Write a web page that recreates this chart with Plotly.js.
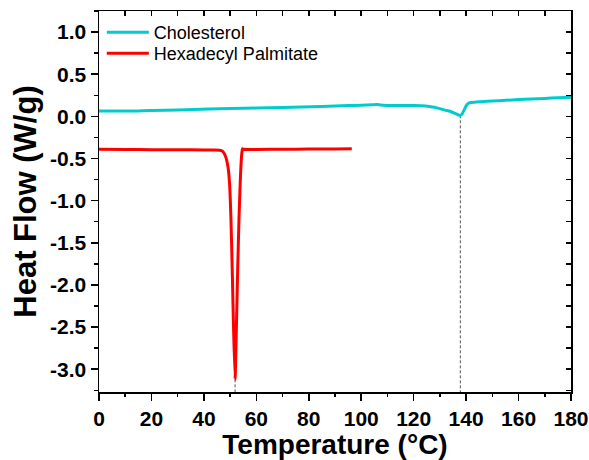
<!DOCTYPE html>
<html>
<head>
<meta charset="utf-8">
<script src="https://cdn.plot.ly/plotly-3.0.1.min.js"></script>
<style>html,body{margin:0;padding:0;background:#fff;}#chart{width:589px;height:460px;}</style>
</head>
<body>
<div id="chart"></div>
<script>
// Cholesterol DSC curve
const cholTemp = [0, 10, 15, 17, 20, 30, 42, 50, 60, 70, 77, 85, 95, 100, 104, 106, 107.5, 110, 115, 120, 123, 126, 128, 130, 132, 134, 136, 137.2, 137.8, 138.5, 139.3, 140.2, 141, 142, 145, 150, 155, 160, 165, 170, 175, 180];
const cholHeat = [0.063, 0.065, 0.064, 0.068, 0.070, 0.076, 0.087, 0.092, 0.098, 0.106, 0.110, 0.118, 0.128, 0.132, 0.137, 0.142, 0.134, 0.130, 0.129, 0.128, 0.126, 0.118, 0.108, 0.091, 0.074, 0.058, 0.032, 0.015, 0.012, 0.030, 0.080, 0.135, 0.158, 0.165, 0.174, 0.183, 0.190, 0.199, 0.205, 0.213, 0.220, 0.228];

// Hexadecyl Palmitate DSC curve
const hpTemp = [0, 10, 20, 30, 40, 44, 46, 47, 48.2, 49.2, 49.8, 50.3, 50.8, 51.3, 51.9, 52.4, 52.9, 53.4, 53.9, 54.3, 54.7, 55.2, 60, 70, 80, 90, 96.4];
const hpHeat = [-0.390, -0.392, -0.395, -0.397, -0.398, -0.400, -0.402, -0.410, -0.470, -0.600, -0.800, -1.200, -1.800, -2.500, -3.120, -2.500, -1.800, -1.200, -0.750, -0.500, -0.385, -0.390, -0.392, -0.390, -0.388, -0.386, -0.383];

// Peak temperatures marked with dashed lines
const peakTemp = [51.9, 137.8];
const peakHeat = [-3.12, 0.012];

const xRange = [0, 180];
const yRange = [-3.27, 1.25];
const xTickVals = [0, 20, 40, 60, 80, 100, 120, 140, 160, 180];
const xTickText = ['0', '20', '40', '60', '80', '100', '120', '140', '160', '180'];
const yTickVals = [1.0, 0.5, 0.0, -0.5, -1.0, -1.5, -2.0, -2.5, -3.0];
const yTickText = ['1.0', '0.5', '0.0', '-0.5', '-1.0', '-1.5', '-2.0', '-2.5', '-3.0'];

const FONT = 'Liberation Sans, Arial, sans-serif';

const traces = [];
peakTemp.forEach((t, i) => {
  traces.push({
    x: [t, t], y: [peakHeat[i], yRange[0]],
    mode: 'lines', line: {color: '#555', width: 1, dash: '3px,2px'},
    showlegend: false, hoverinfo: 'skip'
  });
});
traces.push({
  x: cholTemp, y: cholHeat, name: 'Cholesterol', legend: 'legend',
  mode: 'lines', line: {color: 'rgb(0,204,204)', width: 3, shape: 'spline', smoothing: 0.6}
});
traces.push({
  x: hpTemp, y: hpHeat, name: 'Hexadecyl Palmitate', legend: 'legend2',
  mode: 'lines', line: {color: '#ff0000', width: 3, shape: 'spline', smoothing: 0.5}
});
// carrier for mirrored (top/right) axes
traces.push({x: [null], y: [null], xaxis: 'x2', yaxis: 'y2', showlegend: false, hoverinfo: 'skip', mode: 'lines'});

const legendStyle = {
  xanchor: 'left', yanchor: 'top',
  bgcolor: 'rgba(0,0,0,0)', borderwidth: 0,
  font: {family: FONT, size: 18, color: '#000'},
  itemwidth: 42
};

const layout = {
  width: 589, height: 460,
  margin: {l: 99, r: 18, t: 11, b: 68},
  paper_bgcolor: '#fff', plot_bgcolor: '#fff',
  showlegend: true,
  legend: Object.assign({x: 0.006, y: 0.992}, legendStyle),
  legend2: Object.assign({x: 0.006, y: 0.937}, legendStyle),
  xaxis: {
    range: xRange, tickmode: 'array', tickvals: xTickVals, ticktext: xTickText,
    ticks: 'outside', ticklen: 7, tickwidth: 1.5, tickcolor: '#000',
    minor: {tickmode: 'linear', tick0: 0, dtick: 10, ticks: 'outside', ticklen: 3.5, tickwidth: 1.5, tickcolor: '#000', showgrid: false},
    showline: true, linecolor: '#000', linewidth: 1.5, mirror: true,
    showgrid: false, zeroline: false,
    tickfont: {family: FONT, size: 21, color: '#000', weight: 'bold'},
    title: {text: 'Temperature (°C)', font: {family: FONT, size: 28, color: '#000', weight: 'bold'}, standoff: 5}
  },
  yaxis: {
    range: yRange, tickmode: 'array', tickvals: yTickVals, ticktext: yTickText,
    ticks: 'outside', ticklen: 7, tickwidth: 1.5, tickcolor: '#000',
    minor: {tickmode: 'linear', tick0: 0, dtick: 0.25, ticks: 'outside', ticklen: 3.5, tickwidth: 1.5, tickcolor: '#000', showgrid: false},
    showline: true, linecolor: '#000', linewidth: 1.5, mirror: true,
    showgrid: false, zeroline: false,
    tickfont: {family: FONT, size: 21, color: '#000', weight: 'bold'},
    title: {text: 'Heat Flow (W/g)', font: {family: FONT, size: 31, color: '#000', weight: 'bold'}, standoff: 4}
  },
  xaxis2: {
    overlaying: 'x', side: 'top', range: xRange, anchor: 'y',
    tickmode: 'linear', tick0: 0, dtick: 10, ticks: 'inside', ticklen: 5, tickwidth: 1.5, tickcolor: '#000',
    showticklabels: false, showline: false, showgrid: false, zeroline: false
  },
  yaxis2: {
    overlaying: 'y', side: 'right', range: yRange, anchor: 'x',
    tickmode: 'linear', tick0: 0, dtick: 0.25, ticks: 'inside', ticklen: 5, tickwidth: 1.5, tickcolor: '#000',
    showticklabels: false, showline: false, showgrid: false, zeroline: false
  }
};

Plotly.newPlot('chart', traces, layout, {staticPlot: true, displayModeBar: false});
</script>
</body>
</html>
